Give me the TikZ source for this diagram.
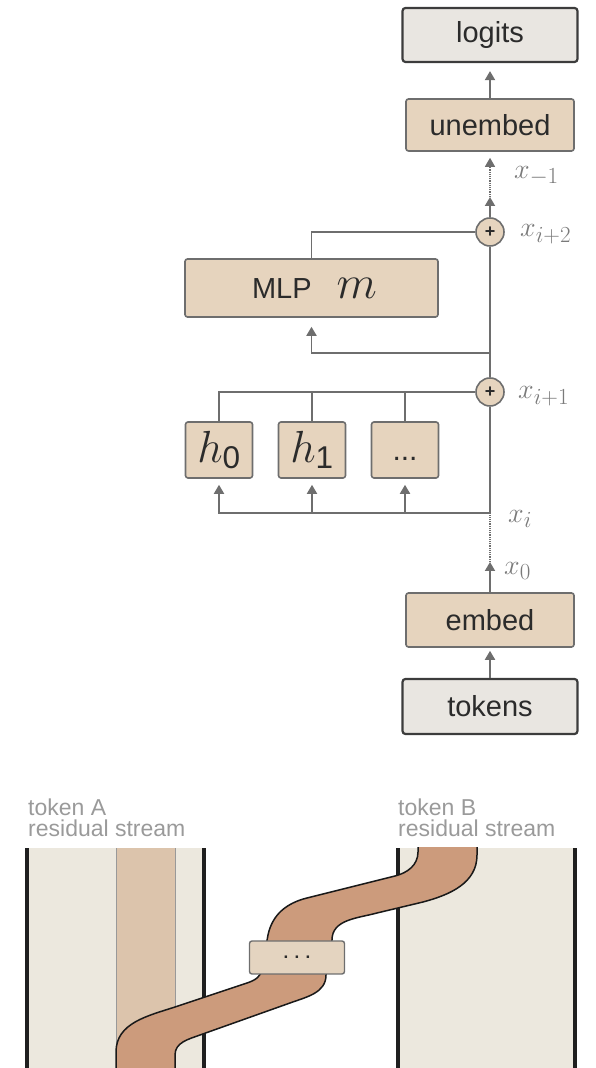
\RequirePackage{fix-cm}
\documentclass[tikz,border=0pt]{standalone}
\usepackage{amsmath}
\usepackage[no-math]{fontspec}
\setmainfont{Liberation Sans}
\usepackage{tikz}
\usetikzlibrary{arrows.meta, calc}
\DeclareMathSizes{28}{28}{23}{19}

\definecolor{tanfill}{HTML}{E6D4BE}
\definecolor{greyfill}{HTML}{E9E6E1}
\definecolor{linegrey}{HTML}{6E6E6E}
\definecolor{boxedge}{HTML}{3C3C3C}
\definecolor{inkgrey}{HTML}{2B2B2B}
\definecolor{streamfill}{HTML}{ECE8DE}
\definecolor{bandfill}{HTML}{DCC4AC}
\definecolor{ribbonfill}{HTML}{CC9B7C}
\definecolor{mixfill}{HTML}{E4D4C0}
\definecolor{labelgrey}{HTML}{9A9A9A}
\definecolor{mathgrey}{HTML}{7A7A7A}

\tikzset{
  tanbox/.style={draw=linegrey, line width=1.6pt, fill=tanfill, rounded corners=2.5pt,
    inner sep=0pt, text=inkgrey, font=\fontsize{29}{30}\selectfont},
  greybox/.style={draw=boxedge, line width=2.2pt, fill=greyfill, rounded corners=3pt,
    inner sep=0pt, text=inkgrey, font=\fontsize{29}{30}\selectfont,
    minimum width=175pt, minimum height=54pt},
  headbox/.style={tanbox, minimum width=67pt, minimum height=56pt,
    font=\fontsize{45}{45}\selectfont},
  sumnode/.style={circle, draw=linegrey, fill=tanfill, line width=1.6pt,
    minimum size=28pt, inner sep=0pt, text=inkgrey, font=\fontsize{18}{18}\selectfont\bfseries},
  wire/.style={draw=linegrey, line width=1.8pt},
  feed/.style={wire, -{Triangle[length=9pt,width=10pt]}, shorten >=6pt},
  skip/.style={draw=linegrey, line width=1.2pt, densely dotted},
  varlabel/.style={text=mathgrey, anchor=west, inner sep=0pt, font=\fontsize{28}{28}\selectfont},
  streamlabel/.style={anchor=north west, inner sep=0pt, align=left, text=labelgrey,
    font=\fontsize{23}{21}\selectfont},
}

\begin{document}
\begin{tikzpicture}
  [x=1pt, y=1pt]
  \useasboundingbox (0,0) rectangle (595,1068);
  % blocks
  \node[greybox] (logits) at (490,1033) {logits};
  \node[tanbox, minimum width=168pt, minimum height=52pt] (unembed) at (490,943) {unembed};
  \node[sumnode] (plustwo) at (490,836) {+};
  \node[tanbox, minimum width=253pt, minimum height=58pt] (mlp) at (311.5,780)
    {\hspace{6pt}MLP\hspace{25pt}{\fontsize{47}{47}\selectfont$m$}};
  \node[sumnode] (plusone) at (490,676) {+};
  \foreach \name/\x/\txt in {head0/219/{$h_{\text{0}}$}, head1/312/{$h_{\text{1}}$}} {
      \node[headbox] (\name) at (\x,618) {\txt};
  }
  \node[headbox, font=\fontsize{30}{30}\selectfont, text height=22pt, text depth=0pt]
    (headdots) at (405,618) {...};
  \node[tanbox, minimum width=168pt, minimum height=54pt] (embed) at (490,448) {embed};
  \node[greybox, minimum height=55pt] (tokens) at (490,361.5) {tokens};
  % residual stream
  \coordinate (xzero) at (490,506);
  \coordinate (xi) at (490,555);
  \coordinate (mlpin) at (490,715);
  \coordinate (xminus) at (490,871);
  \draw[feed, shorten >=3pt] (tokens) -- (embed);
  \draw[feed, shorten >=0pt] (embed) -- (xzero);
  \draw[skip] (xzero) -- (xi);
  \draw[wire] (xi) -- (plusone);
  \draw[wire] (plusone) -- (plustwo);
  \draw[feed, shorten >=0pt] (plustwo) -- (xminus);
  \draw[skip, -{Triangle[length=9pt,width=10pt]}, shorten >=6pt] (xminus) -- (unembed);
  \draw[feed, shorten >=8pt] (unembed) -- (logits);
  % heads
  \draw[feed] (xi) -| (head0);
  \draw[feed] (xi -| head1) -- (head1);
  \draw[feed] (xi -| headdots) -- (headdots);
  \draw[wire] (head0) |- (plusone);
  \draw[wire] (head1) -- (head1 |- plusone);
  \draw[wire] (headdots) -- (headdots |- plusone);
  % mlp
  \draw[feed, shorten >=9pt] (mlpin) -| (mlp);
  \draw[wire] (mlp) |- (plustwo);
  % labels
  \node[varlabel] (lminus) at (514,892) {$x_{-1}$};
  \node[varlabel] (ltwo) at (520,834) {$x_{i+2}$};
  \node[varlabel] (lone) at (518,672) {$x_{i+1}$};
  \node[varlabel] (li) at (508,549) {$x_i$};
  \node[varlabel] (lzero) at (504,497) {$x_0$};

  % token A / token B
  \node[streamlabel] (tokA) at (28,269) {token A\\residual stream};
  \node[streamlabel] (tokB) at (398,269) {token B\\residual stream};
  \fill[streamfill] (27,0) rectangle (204,220);
  \fill[streamfill] (398,0) rectangle (575,220);
  \fill[bandfill] (116,0) rectangle (175,220);
  \draw[black!40, line width=0.9pt] (116,0) -- (116,220) (175,0) -- (175,220);
  \draw[black!88, line width=3.2pt] (27,0) -- (27,220) (204,0) -- (204,220);
  \draw[black!88, line width=3.2pt] (398,0) -- (398,220) (575,0) -- (575,220);
  % ribbon
  \begin{scope}
    \clip (0,0) rectangle (595,220);
    \draw[fill=ribbonfill, draw=black!90, line width=1.5pt]
      (116,-7) -- (116,16) to[out=90,in=198] (175,61) -- (247,85)
      to[out=18,in=-90] (262,100) -- (268,133) to[out=78,in=194] (307,170)
      -- (395,192) to[out=14,in=-90] (418,216) -- (418,230)
      -- (477,230) -- (477,213) to[out=-90,in=15] (423,166) -- (377,155)
      to[out=195,in=90] (332,128) -- (326,93) to[out=-90,in=20] (290,65)
      -- (200,33) to[out=200,in=90] (175,13) -- (175,-7) -- cycle;
  \end{scope}
  \node[draw=linegrey, line width=1.4pt, fill=mixfill, rounded corners=2.5pt,
    minimum width=95pt, minimum height=33pt, inner sep=0pt, text=inkgrey,
    font=\fontsize{17}{17}\selectfont\bfseries] (mix) at (297,110.5) {. . .};
\end{tikzpicture}
\end{document}
